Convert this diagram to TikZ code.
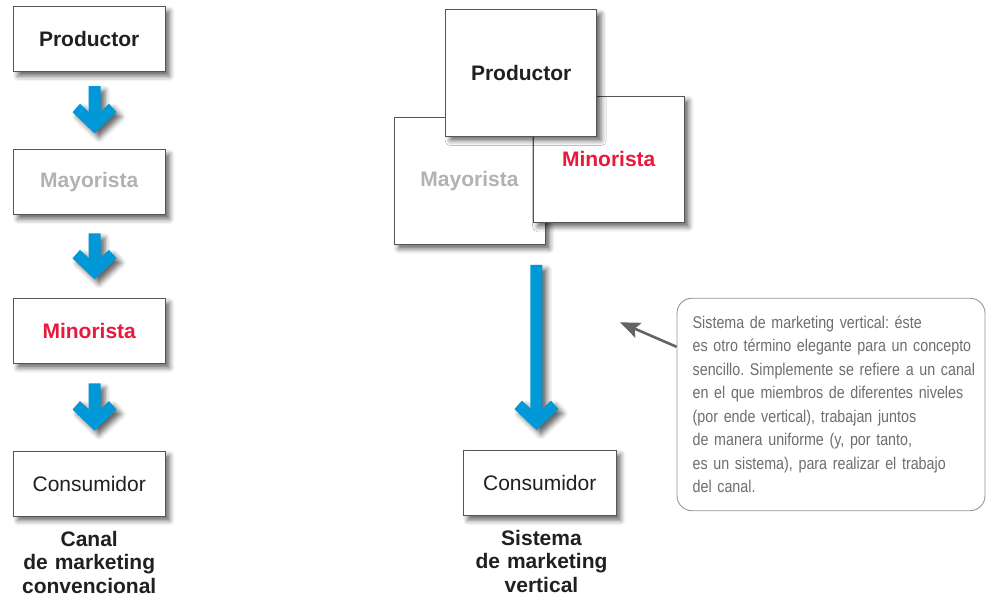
\documentclass[tikz,border=0pt]{standalone}
\usepackage{fontspec}
\setmainfont{Liberation Sans}
\newfontfamily\callfont[FakeStretch=0.84]{Liberation Sans}
\usetikzlibrary{calc,arrows.meta,shadows.blur}
\definecolor{arrblue}{RGB}{0,152,214}
\definecolor{minred}{RGB}{232,25,60}
\definecolor{maygray}{RGB}{178,178,178}
\definecolor{boxline}{RGB}{85,85,85}
\definecolor{calltext}{RGB}{110,110,110}
\definecolor{callline}{RGB}{150,150,150}
\definecolor{ptrgray}{RGB}{100,100,100}
\definecolor{inkblack}{RGB}{35,31,32}
\frenchspacing

\tikzset{
  boxshadow/.style={blur shadow={shadow xshift=4.5pt,shadow yshift=-4.5pt,shadow blur radius=5pt,shadow opacity=60}},
  chainbox/.style={draw=boxline,line width=0.9pt,fill=white,inner sep=0pt,
    minimum width=151.7pt,minimum height=65pt,boxshadow},
  bigbox/.style={chainbox,minimum width=151pt,minimum height=127pt},
  prodtxt/.style={font=\fontsize{21}{24}\selectfont\bfseries,text=inkblack},
  maytxt/.style={font=\fontsize{21}{24}\selectfont\bfseries,text=maygray},
  mintxt/.style={font=\fontsize{21}{24}\selectfont\bfseries,text=minred},
  constxt/.style={font=\fontsize{21}{24}\selectfont,text=inkblack},
  captiontxt/.style={anchor=base,text width=200pt,align=center,inner sep=0pt,
    font=\fontsize{21}{23.5}\selectfont\bfseries,text=inkblack},
  callbox/.style={draw=callline,line width=0.9pt,fill=white,rounded corners=15pt,
    minimum width=308pt,minimum height=212.5pt,inner sep=0pt},
  calltxt/.style={anchor=base west,text width=300pt,align=left,inner sep=0pt,
    font=\callfont\fontsize{17}{23.57}\selectfont,text=calltext},
  pointer/.style={draw=ptrgray,line width=2.6pt,-{Stealth[length=20pt,width=16pt,inset=4pt]}},
  blockfill/.style={fill=arrblue,boxshadow}
}

\newcommand\blockarr[2]{%
  \path[blockfill] let \p1=(#1), \p2=(#2) in
  (\x1-6pt,\y1) -- (\x1-6pt,\y2+21.5pt) -- (\x1-14.5pt,\y2+29.5pt) --
  (\x1-22pt,\y2+21pt) -- (\x1,\y2) -- (\x1+22pt,\y2+21pt) --
  (\x1+14.5pt,\y2+29.5pt) -- (\x1+6pt,\y2+21.5pt) -- (\x1+6pt,\y1) -- cycle;}

\begin{document}
\begin{tikzpicture}[x=1pt,y=-1pt]
\useasboundingbox (0,0) rectangle (986,599);

% ---------- conventional channel ----------
\node[chainbox,prodtxt] (p1) at (89.2,39.2) {Productor};
\node[chainbox,maytxt]  (m1) at (89.2,182.2) {Mayorista};
\node[chainbox,mintxt]  (r1) at (89.2,330.8) {Minorista};
\node[chainbox,constxt] (c1) at (89.2,483.5) {Consumidor};

\coordinate (a1s) at ($(p1.south)+(5.3,14)$);
\coordinate (a1t) at ($(m1.north)+(5.3,-16)$);
\coordinate (a2s) at ($(m1.south)+(5.3,18.3)$);
\coordinate (a2t) at ($(r1.north)+(5.3,-18.5)$);
\coordinate (a3s) at ($(r1.south)+(5.3,19.7)$);
\coordinate (a3t) at ($(c1.north)+(5.3,-20)$);
\blockarr{a1s}{a1t}
\blockarr{a2s}{a2t}
\blockarr{a3s}{a3t}

\node[captiontxt] (cap1) at (89.2,546) {Canal\\de marketing\\convencional};

% ---------- vertical marketing system ----------
\node[bigbox,maytxt,minimum height=127pt] (m2) at (469.5,180.8) {Mayorista};
\node[bigbox,mintxt,minimum height=126.3pt] (r2) at (608.7,159.2) {Minorista};
\node[bigbox,prodtxt,minimum height=126.7pt] (p2) at (521.2,72.7) {Productor};
\node[chainbox,constxt,minimum width=152.7pt,minimum height=65.7pt] (c2) at (539.7,482.9) {Consumidor};

\coordinate (a4s) at ($(m2.south east)+(-9,20)$);
\coordinate (a4t) at ($(c2.north)+(-4.5,-19.5)$);
\blockarr{a4s}{a4t}

\node[captiontxt] (cap2) at (541.5,545.3) {Sistema\\de marketing\\vertical};

% ---------- callout ----------
\node[callbox] (call) at (831,404.5) {};
\node[calltxt] (ctext) at (692.5,328) {Sistema de marketing vertical: éste\\
es otro término elegante para un concepto\\
sencillo. Simplemente se refiere a un canal\\
en el que miembros de diferentes niveles\\
(por ende vertical), trabajan juntos\\
de manera uniforme (y, por tanto,\\
es un sistema), para realizar el trabajo\\
del canal.};
\coordinate (ptr) at (620,322.3);
\draw[pointer] ($(call.north west)+(0,49)$) -- (ptr);
\end{tikzpicture}
\end{document}
